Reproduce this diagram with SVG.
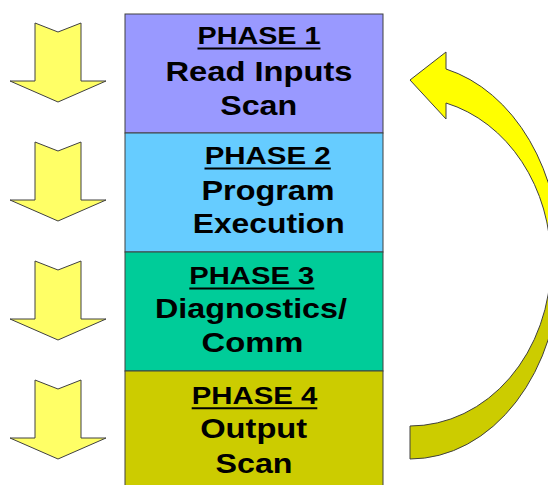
<svg xmlns="http://www.w3.org/2000/svg" width="548" height="485" viewBox="0 0 548 485">
  <style>
    .box { stroke: #404040; stroke-width: 1; }
    .ph { font-family: "Liberation Sans", Arial, sans-serif; font-weight: bold; font-size: 24px; fill: #000; text-anchor: middle; }
    .ln { font-family: "Liberation Sans", Arial, sans-serif; font-weight: bold; font-size: 28px; fill: #000; text-anchor: middle; }
    .ul { stroke: #000; stroke-width: 2; }
    .down { fill: #FFFF66; stroke: #404040; stroke-width: 1; stroke-linejoin: miter; }
    .loop { fill: url(#loopFill); stroke: #404040; stroke-width: 1; }
  </style>
  <defs>
    <path id="downArrow" d="M35,23 L58,32 L81,23 L81,81 L106,81 L58,102 L10,81 L35,81 Z"/>
    <linearGradient id="loopFill" gradientUnits="userSpaceOnUse" x1="0" y1="52" x2="0" y2="459">
      <stop offset="0" stop-color="#FFFF00"/>
      <stop offset="0.52" stop-color="#FFFF00"/>
      <stop offset="0.52" stop-color="#CCCC00"/>
      <stop offset="1" stop-color="#CCCC00"/>
    </linearGradient>
  </defs>
  <rect width="548" height="485" fill="#FFFFFF"/>

  <g id="input-arrows">
    <use href="#downArrow" class="down"/>
    <use href="#downArrow" class="down" transform="translate(0,119)"/>
    <use href="#downArrow" class="down" transform="translate(0,238)"/>
    <use href="#downArrow" class="down" transform="translate(0,357)"/>
  </g>

  <g id="phase1">
    <rect class="box" x="125" y="14" width="258" height="119" fill="#9999FF"/>
    <text class="ph" x="259" y="44" textLength="123" lengthAdjust="spacingAndGlyphs">PHASE 1</text>
    <line class="ul" x1="197.5" y1="48.5" x2="320.5" y2="48.5"/>
    <text class="ln" x="259" y="81" textLength="187" lengthAdjust="spacingAndGlyphs">Read Inputs</text>
    <text class="ln" x="258.7" y="114.5" textLength="77" lengthAdjust="spacingAndGlyphs">Scan</text>
  </g>

  <g id="phase2">
    <rect class="box" x="125" y="133" width="258" height="119" fill="#66CCFF"/>
    <text class="ph" x="267.7" y="164" textLength="126" lengthAdjust="spacingAndGlyphs">PHASE 2</text>
    <line class="ul" x1="204.5" y1="168.5" x2="330.8" y2="168.5"/>
    <text class="ln" x="268" y="200" textLength="133" lengthAdjust="spacingAndGlyphs">Program</text>
    <text class="ln" x="268.7" y="232.5" textLength="152" lengthAdjust="spacingAndGlyphs">Execution</text>
  </g>

  <g id="phase3">
    <rect class="box" x="125" y="252" width="258" height="119" fill="#00CC99"/>
    <text class="ph" x="251.8" y="284" textLength="125" lengthAdjust="spacingAndGlyphs">PHASE 3</text>
    <line class="ul" x1="189.3" y1="288.5" x2="314.3" y2="288.5"/>
    <text class="ln" x="251" y="318" textLength="192" lengthAdjust="spacingAndGlyphs">Diagnostics/</text>
    <text class="ln" x="252.5" y="351.7" textLength="102" lengthAdjust="spacingAndGlyphs">Comm</text>
  </g>

  <g id="phase4">
    <rect class="box" x="125" y="371" width="258" height="120" fill="#CCCC00"/>
    <text class="ph" x="254.5" y="403.7" textLength="125.6" lengthAdjust="spacingAndGlyphs">PHASE 4</text>
    <line class="ul" x1="191.7" y1="408.3" x2="317.3" y2="408.3"/>
    <text class="ln" x="253.7" y="437.5" textLength="107" lengthAdjust="spacingAndGlyphs">Output</text>
    <text class="ln" x="254" y="473" textLength="77" lengthAdjust="spacingAndGlyphs">Scan</text>
  </g>

  <g id="connectors">
    <path class="loop" d="M410,80 L446,52 L446,69 A150,195 0 0 1 560,264 A150,195 0 0 1 410,459 L410,426 A141,164 0 0 0 551,262 A141,164 0 0 0 446,103 L446,119 Z"/>
  </g>
</svg>
